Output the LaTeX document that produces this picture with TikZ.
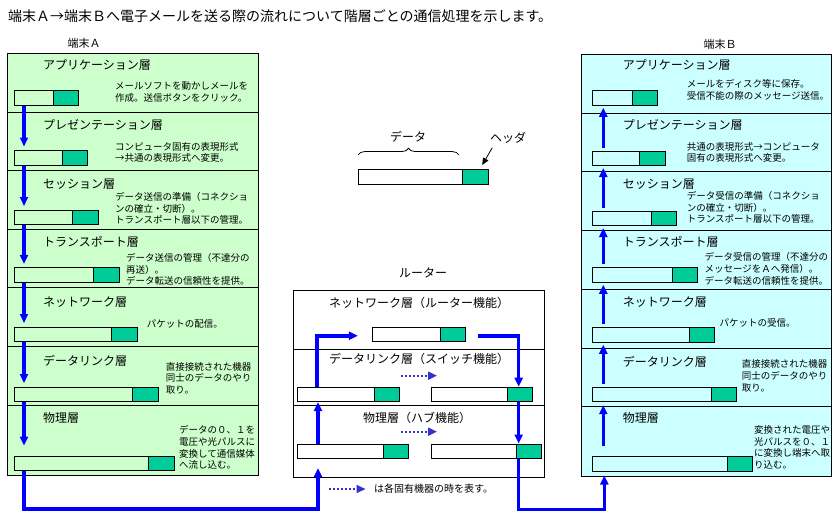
\documentclass[tikz,border=0pt]{standalone}
\usepackage{fontspec}
\setmainfont{Noto Sans CJK JP}
\usepackage{tikz}
\usetikzlibrary{arrows.meta,decorations.pathreplacing}
\definecolor{paneA}{HTML}{CCFFCC}
\definecolor{paneB}{HTML}{CCFFFF}
\definecolor{hdrgreen}{HTML}{00CC99}
\definecolor{flowblue}{HTML}{0000FF}
\definecolor{dotblue}{HTML}{3333CC}

\begin{document}
\begin{tikzpicture}[x=1pt,y=-1pt,
    frame/.style={draw=black,line width=0.8pt},
    bar/.style={draw=black,line width=1pt,anchor=north west,minimum height=14.5pt,inner sep=0pt},
    hdrbox/.style={draw=black,line width=1pt,fill=hdrgreen,anchor=north east,minimum width=25.5pt,minimum height=14.5pt,inner sep=0pt},
    flow/.style={draw=flowblue,line width=3.5pt,-{Triangle[length=9pt,width=8pt]}},
    dots/.style={draw=dotblue,line width=2pt,dash pattern=on 2pt off 2pt,-{Triangle[length=9pt,width=8pt]}},
    ptr/.style={draw=black,line width=0.8pt,-{Triangle[length=7pt,width=6pt]}},
    lyr/.style={anchor=west,inner sep=0pt,font=\fontsize{12}{14}\selectfont},
    mid/.style={inner sep=0pt,font=\fontsize{12}{14}\selectfont},
    note/.style={anchor=north west,align=left,inner sep=0pt,font=\fontsize{9.5}{11.7}\selectfont}]
              \useasboundingbox[fill=white] (0,0) rectangle (836,515);
              \node[anchor=west,inner sep=0pt,font=\fontsize{14}{16}\selectfont] (ttl) at (8,16) {端末Ａ→端末Ｂへ電子メールを送る際の流れについて階層ごとの通信処理を示します。};
              \node[inner sep=0pt,font=\fontsize{11}{13}\selectfont] (tA) at (84,43) {端末Ａ};
              \node[inner sep=0pt,font=\fontsize{11}{13}\selectfont] (tB) at (720,44) {端末Ｂ};

              \draw[frame,fill=paneA] (7,53) rectangle (258,475);
              \draw[frame] (7,112) -- (258,112) (7,170.5) -- (258,170.5) (7,229) -- (258,229)
                (7,287.5) -- (258,287.5) (7,346.5) -- (258,346.5) (7,405) -- (258,405);
              \draw[frame,fill=paneB] (581,54) rectangle (831,476.5);
              \draw[frame] (581,113) -- (831,113) (581,171.5) -- (831,171.5) (581,230) -- (831,230)
                (581,289) -- (831,289) (581,348) -- (831,348) (581,406) -- (831,406);

              \node[lyr] (la1) at (43,65) {アプリケーション層};
              \node[lyr] (la2) at (43,125) {プレゼンテーション層};
              \node[lyr] (la3) at (43,184) {セッション層};
              \node[lyr] (la4) at (43,242) {トランスポート層};
              \node[lyr] (la5) at (43,302) {ネットワーク層};
              \node[lyr] (la6) at (43,361) {データリンク層};
              \node[lyr] (la7) at (43,418) {物理層};
              \node[lyr] (lb1) at (622.7,65) {アプリケーション層};
              \node[lyr] (lb2) at (622.7,125) {プレゼンテーション層};
              \node[lyr] (lb3) at (622.7,184) {セッション層};
              \node[lyr] (lb4) at (622.7,242) {トランスポート層};
              \node[lyr] (lb5) at (622.7,302.5) {ネットワーク層};
              \node[lyr] (lb6) at (622.7,361.5) {データリンク層};
              \node[lyr] (lb7) at (622.7,418.3) {物理層};

              \node[note] (na1) at (115,81.3) {メールソフトを動かしメールを\\作成。送信ボタンをクリック。};
              \node[note] (na2) at (115,142) {コンピュータ固有の表現形式\\→共通の表現形式へ変更。};
              \node[note] (na3) at (115,192) {データ送信の準備（コネクショ\\ンの確立・切断）。\\トランスポート層以下の管理。};
              \node[note] (na4) at (126,253) {データ送信の管理（不達分の\\再送）。\\データ転送の信頼性を提供。};
              \node[note] (na5) at (146.7,319.6) {パケットの配信。};
              \node[note] (na6) at (165.7,362) {直接接続された機器\\同士のデータのやり\\取り。};
              \node[note] (na7) at (179,425.3) {データの０、１を\\電圧や光パルスに\\変換して通信媒体\\へ流し込む。};
              \node[note] (nb1) at (686.7,79.6) {メールをディスク等に保存。\\受信不能の際のメッセージ送信。};
              \node[note] (nb2) at (686.7,142) {共通の表現形式→コンピュータ\\固有の表現形式へ変更。};
              \node[note] (nb3) at (686.7,191) {データ受信の準備（コネクショ\\ンの確立・切断）。\\トランスポート層以下の管理。};
              \node[note] (nb4) at (704.3,252.6) {データ受信の管理（不達分の\\メッセージをＡへ発信）。\\データ転送の信頼性を提供。};
              \node[note] (nb5) at (719.3,318.6) {パケットの受信。};
              \node[note] (nb6) at (741.7,359.6) {直接接続された機器\\同士のデータのやり\\取り。};
              \node[note] (nb7) at (754,425.3) {変換された電圧や\\光パルスを０、１\\に変換し端末へ取\\り込む。};

              \node[bar,minimum width=64pt] (a1) at (14,90) {};
              \node[hdrbox] (a1h) at (a1.north east) {};
              \node[bar,minimum width=73pt] (a2) at (14,150) {};
              \node[hdrbox] (a2h) at (a2.north east) {};
              \node[bar,minimum width=83.5pt] (a3) at (14,209.5) {};
              \node[hdrbox] (a3h) at (a3.north east) {};
              \node[bar,minimum width=104.5pt] (a4) at (14,267.3) {};
              \node[hdrbox] (a4h) at (a4.north east) {};
              \node[bar,minimum width=122.7pt] (a5) at (14,326.5) {};
              \node[hdrbox] (a5h) at (a5.north east) {};
              \node[bar,minimum width=143.5pt] (a6) at (14,386.5) {};
              \node[hdrbox] (a6h) at (a6.north east) {};
              \node[bar,minimum width=159.5pt] (a7) at (14,455.7) {};
              \node[hdrbox] (a7h) at (a7.north east) {};

              \node[bar,minimum width=65pt] (b1) at (592.3,90.3) {};
              \node[hdrbox] (b1h) at (b1.north east) {};
              \node[bar,minimum width=72.5pt] (b2) at (592.3,150.5) {};
              \node[hdrbox] (b2h) at (b2.north east) {};
              \node[bar,minimum width=84pt] (b3) at (592.3,210.5) {};
              \node[hdrbox] (b3h) at (b3.north east) {};
              \node[bar,minimum width=105pt] (b4) at (592.3,267.3) {};
              \node[hdrbox] (b4h) at (b4.north east) {};
              \node[bar,minimum width=122pt] (b5) at (592.3,327.3) {};
              \node[hdrbox] (b5h) at (b5.north east) {};
              \node[bar,minimum width=144pt] (b6) at (592.3,386.7) {};
              \node[hdrbox] (b6h) at (b6.north east) {};
              \node[bar,minimum width=160pt] (b7) at (592.3,456) {};
              \node[hdrbox] (b7h) at (b7.north east) {};

              \draw[flow] ([xshift=10pt]a1.south west) -- ([xshift=10pt,yshift=3.5pt]a2.north west);
              \draw[flow] ([xshift=10pt]a2.south west) -- ([xshift=10pt,yshift=3.5pt]a3.north west);
              \draw[flow] ([xshift=10pt]a3.south west) -- ([xshift=10pt,yshift=3.5pt]a4.north west);
              \draw[flow] ([xshift=10pt]a4.south west) -- ([xshift=10pt,yshift=3.5pt]a5.north west);
              \draw[flow] ([xshift=10pt]a5.south west) -- ([xshift=10pt,yshift=3.5pt]a6.north west);
              \draw[flow] ([xshift=10pt]a6.south west) -- ([xshift=10pt,yshift=10pt]a7.north west);

              \draw[flow] ([xshift=11pt,yshift=3pt]b2.north west) -- ([xshift=11pt,yshift=-2pt]b1.south west);
              \draw[flow] ([xshift=11pt,yshift=3pt]b3.north west) -- ([xshift=11pt,yshift=-2pt]b2.south west);
              \draw[flow] ([xshift=11pt,yshift=3pt]b4.north west) -- ([xshift=11pt,yshift=-2pt]b3.south west);
              \draw[flow] ([xshift=11pt,yshift=3pt]b5.north west) -- ([xshift=11pt,yshift=-2pt]b4.south west);
              \draw[flow] ([xshift=11pt,yshift=3pt]b6.north west) -- ([xshift=11pt,yshift=-2pt]b5.south west);
              \draw[flow] ([xshift=11pt,yshift=10pt]b7.north west) -- ([xshift=11pt,yshift=-3pt]b6.south west);

              \node[mid] (cap) at (408,137) {データ};
              \node[mid] (hdl) at (508,138) {ヘッダ};
              \node[bar,fill=white,minimum width=129.4pt] (cb) at (358.3,169.3) {};
              \node[hdrbox] (cbh) at (cb.north east) {};
              \draw[line width=0.8pt,decorate,decoration={brace,amplitude=6.5pt}]
                ([yshift=14.5pt]cb.north west) -- ([xshift=-3.5pt,yshift=14.5pt]cbh.north west);
              \draw[ptr] ([xshift=2.5pt,yshift=-4pt]hdl.south west) -- ([xshift=20pt,yshift=4.3pt]cbh.north west);

              \node[mid] (rtt) at (423,273) {ルーター};
              \draw[frame,fill=white] (293.3,290.3) rectangle (544.3,477.3);
              \draw[frame] (293.3,349) -- (544.3,349) (293.3,405) -- (544.3,405);
              \node[mid] (rl5) at (419,302.7) {ネットワーク層（ルーター機能）};
              \node[mid] (rl6) at (419,359.3) {データリンク層（スイッチ機能）};
              \node[mid] (rl7) at (417,418.3) {物理層（ハブ機能）};

              \node[bar,minimum width=92.7pt] (rn) at (372.3,326.5) {};
              \node[hdrbox] (rnh) at (rn.north east) {};
              \node[bar,minimum width=102.3pt] (r6) at (297,386.7) {};
              \node[hdrbox] (r6h) at (r6.north east) {};
              \node[bar,minimum width=101.6pt] (s6) at (430.7,386.7) {};
              \node[hdrbox] (s6h) at (s6.north east) {};
              \node[bar,minimum width=111.3pt] (r7) at (297,443.5) {};
              \node[hdrbox] (r7h) at (r7.north east) {};
              \node[bar,minimum width=110.3pt] (s7) at (430.7,443.5) {};
              \node[hdrbox] (s7h) at (s7.north east) {};

              \draw[flow] ([xshift=10pt]a7.south west) |- ([xshift=21pt,yshift=-50pt]r7.south west) -- ([xshift=21pt,yshift=-9pt]r7.south west);
              \draw[flow] ([xshift=21pt]r7.north west) -- ([xshift=21pt]r6.south west);
              \draw[flow] ([xshift=20pt]r6.north west) |- ([xshift=-14.5pt,yshift=-1.5pt]rn.west);
              \draw[flow] ([xshift=12pt,yshift=-1.5pt]rn.east) -| ([xshift=88pt]s6.north west);
              \draw[flow] ([xshift=88pt]s6.south west) -- ([xshift=88pt]s7.north west);
              \draw[flow] ([xshift=88pt]s7.south west) |- ([xshift=12pt,yshift=-38pt]b7.south west) -- ([xshift=12pt,yshift=-4pt]b7.south west);

              \coordinate (d6s) at (400.7,375.7);
              \coordinate (d6e) at (437,375.7);
              \coordinate (d7s) at (400.7,431.7);
              \coordinate (d7e) at (437,431.7);
              \coordinate (kys) at (329.3,489);
              \coordinate (kye) at (365.5,489);
              \draw[dots] (d6s) -- (d6e);
              \draw[dots] (d7s) -- (d7e);
              \draw[dots] (kys) -- (kye);
              \node[anchor=west,inner sep=0pt,font=\fontsize{10}{12}\selectfont] (key) at (374,489) {は各固有機器の時を表す。};
            \end{tikzpicture}
\end{document}
